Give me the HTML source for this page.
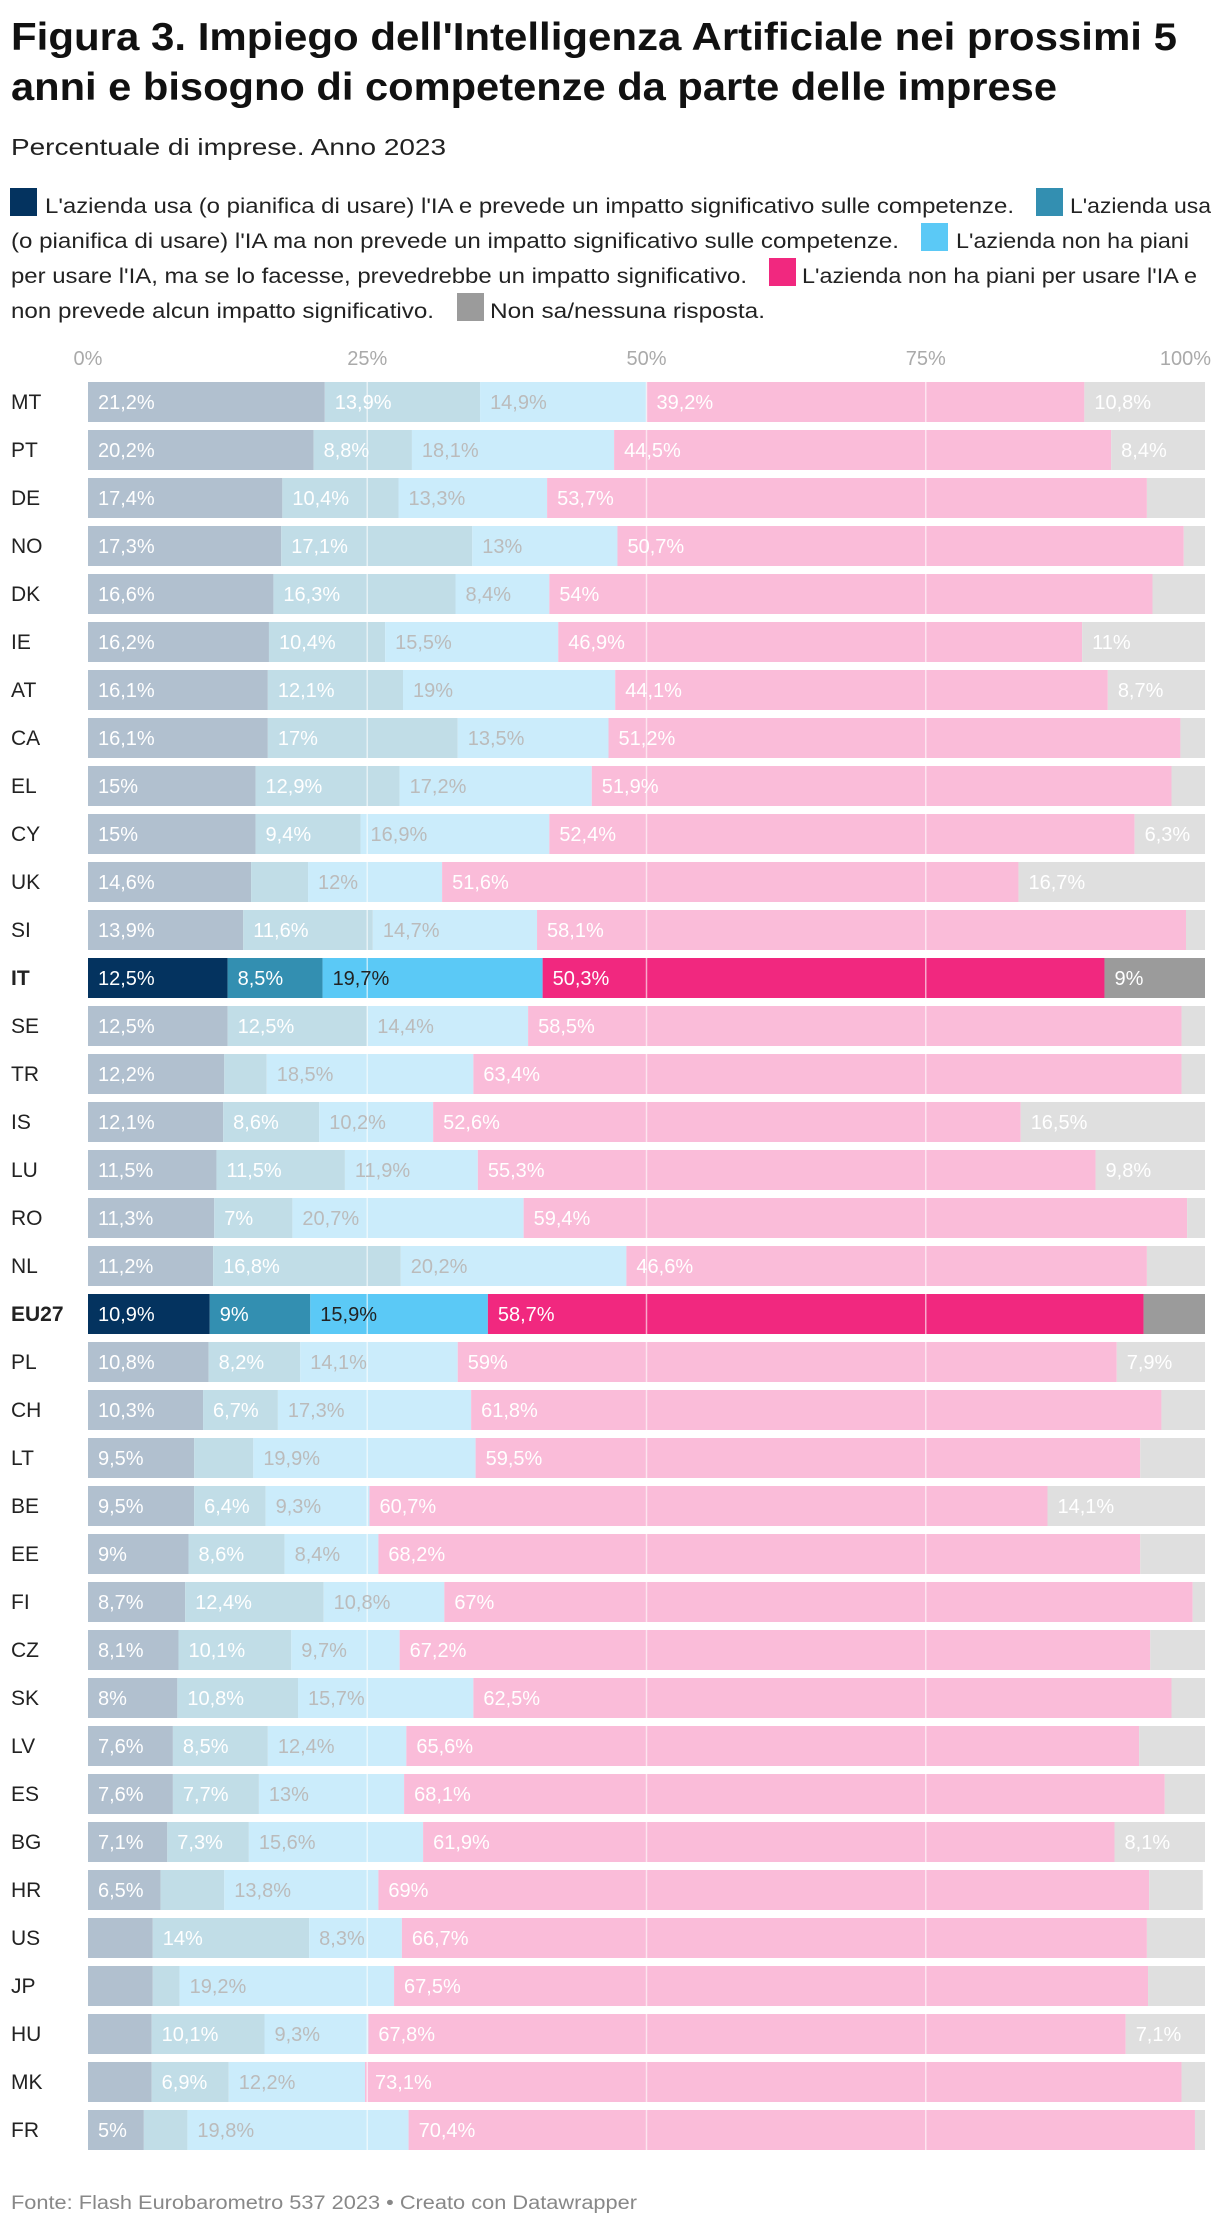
<!DOCTYPE html>
<html><head><meta charset="utf-8">
<style>
html,body{margin:0;padding:0;background:#fff;}
svg{display:block;font-family:"Liberation Sans",Arial,sans-serif;}
</style></head>
<body>
<svg id="chart" width="1220" height="2226" viewBox="0 0 1220 2226" xmlns="http://www.w3.org/2000/svg">
<text x="11" y="50" font-size="39" font-weight="bold" fill="#111" textLength="1166" lengthAdjust="spacingAndGlyphs">Figura 3. Impiego dell'Intelligenza Artificiale nei prossimi 5</text>
<text x="11" y="100" font-size="39" font-weight="bold" fill="#111" textLength="1046" lengthAdjust="spacingAndGlyphs">anni e bisogno di competenze da parte delle imprese</text>
<text x="11" y="155" font-size="23" fill="#222" textLength="435" lengthAdjust="spacingAndGlyphs">Percentuale di imprese. Anno 2023</text>
<g font-size="21" fill="#222">
<rect x="10" y="188" width="27" height="28" fill="#04335f"/>
<text x="45" y="213" textLength="969" lengthAdjust="spacingAndGlyphs">L'azienda usa (o pianifica di usare) l'IA e prevede un impatto significativo sulle competenze.</text>
<rect x="1036" y="188" width="27" height="28" fill="#338fb1"/>
<text x="1070" y="213" textLength="141" lengthAdjust="spacingAndGlyphs">L'azienda usa</text>
<text x="11" y="248" textLength="888" lengthAdjust="spacingAndGlyphs">(o pianifica di usare) l'IA ma non prevede un impatto significativo sulle competenze.</text>
<rect x="921" y="223" width="27" height="28" fill="#5bc9f6"/>
<text x="956" y="248" textLength="233" lengthAdjust="spacingAndGlyphs">L'azienda non ha piani</text>
<text x="11" y="283" textLength="736" lengthAdjust="spacingAndGlyphs">per usare l'IA, ma se lo facesse, prevedrebbe un impatto significativo.</text>
<rect x="769" y="258" width="27" height="28" fill="#f1287f"/>
<text x="802" y="283" textLength="395" lengthAdjust="spacingAndGlyphs">L'azienda non ha piani per usare l'IA e</text>
<text x="11" y="318" textLength="423" lengthAdjust="spacingAndGlyphs">non prevede alcun impatto significativo.</text>
<rect x="457" y="293" width="27" height="28" fill="#9b9b9b"/>
<text x="490" y="318" textLength="275" lengthAdjust="spacingAndGlyphs">Non sa/nessuna risposta.</text>
</g>
<g id="axis"></g>
<g id="bars"></g>
<g id="grid"></g>
<g id="labels"></g>
<text x="11" y="2209" font-size="19" fill="#888" textLength="626" lengthAdjust="spacingAndGlyphs">Fonte: Flash Eurobarometro 537 2023 • Creato con Datawrapper</text>
</svg>
<script>
const countries = ["MT","PT","DE","NO","DK","IE","AT","CA","EL","CY","UK","SI","IT","SE","TR","IS","LU","RO","NL","EU27","PL","CH","LT","BE","EE","FI","CZ","SK","LV","ES","BG","HR","US","JP","HU","MK","FR"];
const usesImpact =    [21.2,20.2,17.4,17.3,16.6,16.2,16.1,16.1,15,15,14.6,13.9,12.5,12.5,12.2,12.1,11.5,11.3,11.2,10.9,10.8,10.3,9.5,9.5,9,8.7,8.1,8,7.6,7.6,7.1,6.5,5.8,5.8,5.7,5.7,5];
const usesNoImpact =  [13.9,8.8,10.4,17.1,16.3,10.4,12.1,17,12.9,9.4,5.1,11.6,8.5,12.5,3.8,8.6,11.5,7,16.8,9,8.2,6.7,5.3,6.4,8.6,12.4,10.1,10.8,8.5,7.7,7.3,5.7,14,2.4,10.1,6.9,3.9];
const noPlanImpact =  [14.9,18.1,13.3,13,8.4,15.5,19,13.5,17.2,16.9,12,14.7,19.7,14.4,18.5,10.2,11.9,20.7,20.2,15.9,14.1,17.3,19.9,9.3,8.4,10.8,9.7,15.7,12.4,13,15.6,13.8,8.3,19.2,9.3,12.2,19.8];
const noPlanNoImpact =[39.2,44.5,53.7,50.7,54,46.9,44.1,51.2,51.9,52.4,51.6,58.1,50.3,58.5,63.4,52.6,55.3,59.4,46.6,58.7,59,61.8,59.5,60.7,68.2,67,67.2,62.5,65.6,68.1,61.9,69,66.7,67.5,67.8,73.1,70.4];
const noAnswer =      [10.8,8.4,5.2,1.9,4.7,11,8.7,2.2,3,6.3,16.7,1.7,9,2.1,2.1,16.5,9.8,1.6,5.2,5.5,7.9,3.9,5.8,14.1,5.8,1.1,4.9,3,5.9,3.6,8.1,4.8,5.2,5.1,7.1,2.1,0.9];
const ticks = [0,25,50,75,100];
const highlighted = ["IT","EU27"];

const NS="http://www.w3.org/2000/svg";
const X0=88, X1=1205, Y0=382, STEP=48, BH=40;
const xScale = v => X0 + (X1-X0)*v/100;
const yScale = i => Y0 + i*STEP;
const fullCols = ["#04335f","#338fb1","#5bc9f6","#f1287f","#9b9b9b"];
const fadeCols = ["#b1c0cf","#c1dde7","#cbecfb","#fabcd9","#dfdfdf"];
const fullText = ["#fff","#fff","#222","#fff","#fff"];
const fadeText = ["#fff","#fff","#bbb","#fff","#fff"];
const segNames = ["uses-impact","uses-no-impact","no-plan-impact","no-plan-no-impact","no-answer"];
const series=[usesImpact,usesNoImpact,noPlanImpact,noPlanNoImpact,noAnswer];
function mk(tag,attrs,parent){const e=document.createElementNS(NS,tag);for(const k in attrs)e.setAttribute(k,attrs[k]);parent.appendChild(e);return e;}
const axis=document.getElementById('axis'), bars=document.getElementById('bars'), grid=document.getElementById('grid'), labels=document.getElementById('labels');
ticks.forEach(t=>{
  const x=xScale(t);
  const anchor = t===100?'end':'middle';
  const tx = mk('text',{x:t===100?1211:x,y:365,'font-size':20,fill:'#aaa','text-anchor':anchor},axis);
  
  
  tx.textContent=t+'%';
  if(t>0&&t<100){
    const l=mk('line',{x1:x,x2:x,y1:Y0,y2:yScale(countries.length-1)+BH,stroke:'#fff','stroke-opacity':0.6,'stroke-width':1.5},grid);
    
    
  }
});
function fmt(v){return String(v).replace('.',',')+'%';}
countries.forEach((c,i)=>{
  const y=yScale(i), hl=highlighted.includes(c);
  const lab=mk('text',{x:11,y:y+BH/2+7,'font-size':21,fill:'#222','font-weight':hl?'bold':'normal'},labels);
  
  
  lab.textContent=c;
  let acc=0;
  series.forEach((s,k)=>{
    const v=s[i];
    const xa=xScale(acc), xb=xScale(acc+v);
    const r=mk('rect',{x:xa,y:y,width:Math.max(0,xb-xa),height:BH,fill:hl?fullCols[k]:fadeCols[k]},bars);
    
    
    const isInt = Number.isInteger(v);
    if((isInt && v>=4.5) || v>=6.2){
      const t=mk('text',{x:xa+10,y:y+BH/2+7,'font-size':20,fill:hl?fullText[k]:fadeText[k]},labels);
      
      
      t.textContent=fmt(v);
    }
    acc+=v;
  });
});
</script>
</body></html>
